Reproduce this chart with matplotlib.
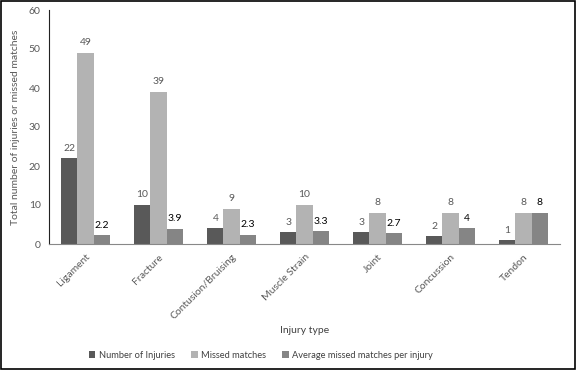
import numpy as np
import matplotlib.pyplot as plt

categories = ['Ligament', 'Fracture', 'Contusion/Bruising', 'Muscle Strain',
              'Joint', 'Concussion', 'Tendon']
injuries = [22, 10, 4, 3, 3, 2, 1]
missed = [49, 39, 9, 10, 8, 8, 8]
avg_missed = [2.2, 3.9, 2.3, 3.3, 2.7, 4, 8]
avg_labels = ['2.2', '3.9', '2.3', '3.3', '2.7', '4', '8']

plt.rcParams['font.family'] = ['Lato', 'DejaVu Sans']

fig = plt.figure(figsize=(5.76, 3.70), dpi=100)
ax = fig.add_axes([49 / 576, 126 / 370, 511 / 576, 234 / 370])

x = np.arange(len(categories))
w = 0.22
b1 = ax.bar(x - w, injuries, w, color='#595959', label='Number of Injuries')
b2 = ax.bar(x, missed, w, color='#b3b3b3', label='Missed matches')
b3 = ax.bar(x + w, avg_missed, w, color='#858585',
            label='Average missed matches per injury')

ax.bar_label(b1, padding=4, fontsize=7.5, color='#595959')
ax.bar_label(b2, padding=4, fontsize=7.5, color='#595959')
ax.bar_label(b3, labels=avg_labels, padding=4, fontsize=7.5, color='black')

ax.set_ylim(0, 60)
ax.set_xlim(-0.5, len(categories) - 0.5)
ax.set_yticks(range(0, 61, 10))
ax.set_xticks(x)
ax.set_xticklabels(categories, rotation=45, ha='right', rotation_mode='anchor')
ax.tick_params(axis='both', length=0, labelsize=7.5, colors='#595959', pad=6)

for s in ['top', 'right']:
    ax.spines[s].set_visible(False)
ax.spines['left'].set_color('#222222')
ax.spines['bottom'].set_color('#888888')

ax.set_ylabel('Total number of injuries or missed matches', fontsize=7.5,
              color='#595959')
ax.yaxis.set_label_coords(-0.056, 0.5)
ax.set_xlabel('Injury type', fontsize=7.5, color='#404040')
ax.xaxis.set_label_coords(0.5, -0.35)

fig.legend(loc='center', bbox_to_anchor=(261 / 576, 15 / 370),
           ncol=3, frameon=False, fontsize=6.7, handlelength=0.7,
           handleheight=0.7, columnspacing=1.7, handletextpad=0.4,
           labelcolor='#404040')

fig.patches.append(plt.Rectangle((0.002, 0.003), 0.996, 0.994,
                                 transform=fig.transFigure, fill=False,
                                 edgecolor='black', linewidth=1.2))

fig.savefig('out.png', dpi=100)
